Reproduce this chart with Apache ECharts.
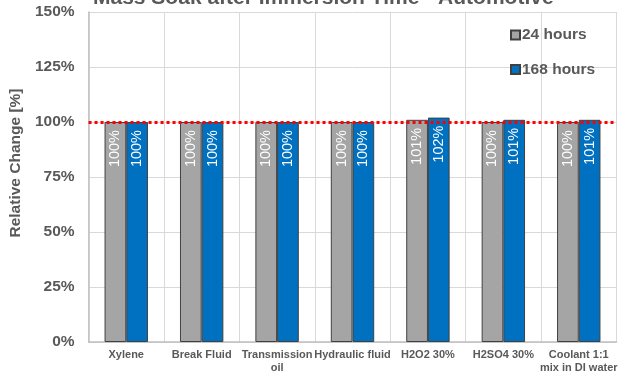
<!DOCTYPE html>
<html>
<head>
<meta charset="utf-8">
<style>
  html, body { margin: 0; padding: 0; background: #ffffff; }
  #chart { width: 620px; height: 374px; }
</style>
<script src="https://cdn.jsdelivr.net/npm/echarts@6/dist/echarts.min.js"></script>
</head>
<body>
<div id="chart"></div>
<script>
// Fluids the samples were soaked in
const categories = ['Xylene', 'Break Fluid', 'Transmission\noil', 'Hydraulic fluid', 'H2O2 30%', 'H2SO4 30%', 'Coolant 1:1\nmix in DI water'];
// Relative mass after immersion, in percent
const hours24 = [100, 100, 100, 100, 101, 100, 100];
const hours168 = [100, 100, 100, 100, 102, 101, 101];
const seriesNames = ['24 hours', '168 hours'];
const referenceLevel = 100;
const yTicks = { min: 0, max: 150, interval: 25 };

const FONT = '"Liberation Sans", Arial, sans-serif';
const TEXT = '#595959';

const barLabel = {
  show: true,
  position: 'insideTop',
  rotate: 90,
  align: 'right',
  verticalAlign: 'middle',
  distance: 8,
  color: '#ffffff',
  fontFamily: FONT,
  fontSize: 14.5,
  formatter: '{c}%'
};

const chart = echarts.init(document.getElementById('chart'), null, { renderer: 'canvas' });
chart.setOption({
  animation: false,
  backgroundColor: '#ffffff',
  title: {
    text: 'Mass Soak after Immersion Time - Automotive',
    left: 93,
    top: -12,
    padding: 0,
    textStyle: { fontFamily: FONT, fontSize: 21, fontWeight: 'bold', color: TEXT }
  },
  legend: {
    orient: 'vertical',
    left: 510,
    top: 27,
    padding: 0,
    itemGap: 18.5,
    itemWidth: 9,
    itemHeight: 9,
    icon: 'rect',
    data: seriesNames,
    textStyle: { fontFamily: FONT, fontSize: 15.5, fontWeight: 'bold', color: TEXT, padding: [0, 0, 0, -3] }
  },
  grid: { left: 86, top: 12, width: 536, height: 331.5, containLabel: false },
  xAxis: {
    type: 'category',
    data: categories,
    axisTick: { show: false },
    axisLine: { lineStyle: { color: '#bfbfbf', width: 1.5 } },
    splitLine: { show: true, lineStyle: { color: '#d9d9d9', width: 1 } },
    axisLabel: {
      interval: 0,
      margin: 6,
      fontFamily: FONT,
      fontSize: 11,
      fontWeight: 'bold',
      color: TEXT,
      lineHeight: 13
    }
  },
  yAxis: {
    type: 'value',
    min: yTicks.min,
    max: yTicks.max,
    interval: yTicks.interval,
    name: 'Relative Change [%]',
    nameLocation: 'middle',
    nameGap: 50,
    nameTextStyle: { fontFamily: FONT, fontSize: 15.5, fontWeight: 'bold', color: TEXT, padding: [0, 0, 0, 28] },
    axisLine: { show: true, lineStyle: { color: '#bfbfbf', width: 1.5 } },
    axisTick: { show: false },
    splitLine: { show: true, lineStyle: { color: '#d9d9d9', width: 1 } },
    axisLabel: {
      margin: 14,
      formatter: '{value}%',
      fontFamily: FONT,
      fontSize: 15.5,
      fontWeight: 'bold',
      color: TEXT
    }
  },
  series: [
    {
      name: seriesNames[0],
      type: 'bar',
      data: hours24,
      barWidth: 21.7,
      barGap: '0%',
      itemStyle: { color: '#a5a5a5', borderColor: '#404040', borderWidth: 1 },
      label: barLabel
    },
    {
      name: seriesNames[1],
      type: 'bar',
      data: hours168,
      barWidth: 21.7,
      barGap: '0%',
      itemStyle: { color: '#0070c0', borderColor: '#404040', borderWidth: 1 },
      label: barLabel,
      markLine: {
        silent: true,
        symbol: 'none',
        z: 10,
        label: { show: false },
        lineStyle: { color: '#ff0000', type: [3, 3], width: 3 },
        data: [{ yAxis: referenceLevel }]
      }
    }
  ]
});
</script>
</body>
</html>
